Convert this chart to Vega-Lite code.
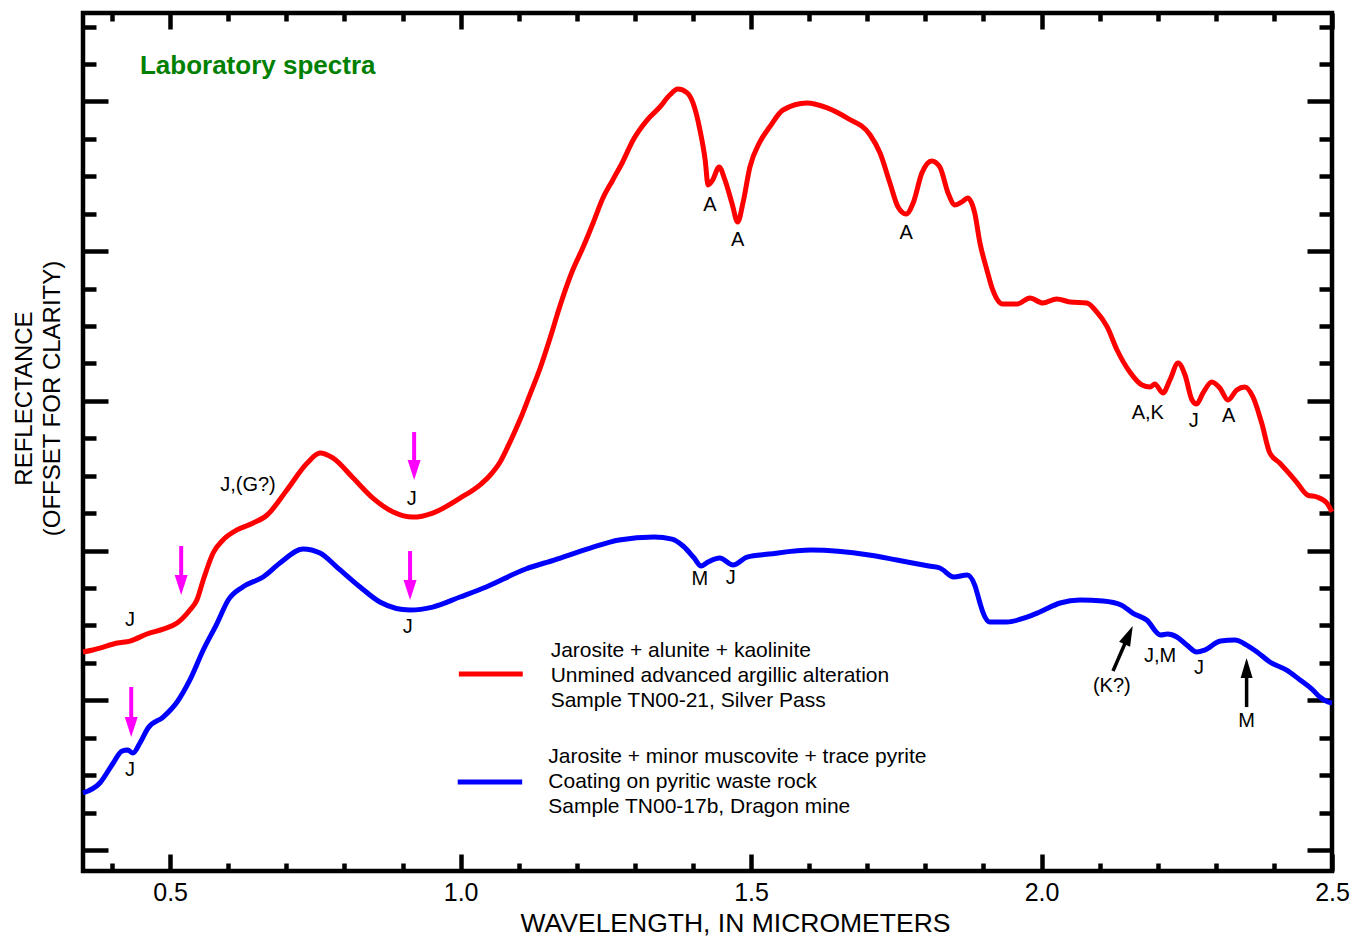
{
  "$schema": "https://vega.github.io/schema/vega-lite/v6.json",
  "width": 1249,
  "height": 858,
  "autosize": "none",
  "padding": {"left": 83, "top": 13, "right": 27, "bottom": 66},
  "background": "white",
  "config": {
    "font": "Liberation Sans",
    "view": {"stroke": "black", "strokeWidth": 4.5},
    "axis": {"domain": false, "grid": false, "tickColor": "black", "tickWidth": 4.5, "labelColor": "black", "titleColor": "black", "titleFontWeight": "normal", "labelFont": "Liberation Sans", "titleFont": "Liberation Sans"}
  },
  "datasets": {
    "red": [
      {"x":0.350,"y":1.323},{"x":0.367,"y":1.336},{"x":0.379,"y":1.349},{"x":0.409,"y":1.383},{"x":0.431,"y":1.396},{"x":0.460,"y":1.443},{"x":0.488,"y":1.476},{"x":0.512,"y":1.516},{"x":0.534,"y":1.603},{"x":0.546,"y":1.670},{"x":0.557,"y":1.804},{"x":0.574,"y":1.984},{"x":0.591,"y":2.071},{"x":0.615,"y":2.138},{"x":0.643,"y":2.184},{"x":0.667,"y":2.238},{"x":0.701,"y":2.405},{"x":0.736,"y":2.585},{"x":0.758,"y":2.652},{"x":0.780,"y":2.619},{"x":0.815,"y":2.485},{"x":0.849,"y":2.351},{"x":0.884,"y":2.258},{"x":0.918,"y":2.224},{"x":0.952,"y":2.251},{"x":0.999,"y":2.351},{"x":1.033,"y":2.438},{"x":1.050,"y":2.500},{"x":1.068,"y":2.592},{"x":1.085,"y":2.725},{"x":1.102,"y":2.872},{"x":1.119,"y":3.039},{"x":1.137,"y":3.220},{"x":1.154,"y":3.420},{"x":1.171,"y":3.634},{"x":1.193,"y":3.874},{"x":1.211,"y":4.028},{"x":1.228,"y":4.188},{"x":1.245,"y":4.355},{"x":1.262,"y":4.476},{"x":1.278,"y":4.589},{"x":1.297,"y":4.743},{"x":1.321,"y":4.876},{"x":1.343,"y":4.963},{"x":1.360,"y":5.043},{"x":1.374,"y":5.083},{"x":1.390,"y":5.057},{"x":1.400,"y":4.990},{"x":1.412,"y":4.810},{"x":1.421,"y":4.609},{"x":1.426,"y":4.442},{"x":1.434,"y":4.476},{"x":1.445,"y":4.562},{"x":1.455,"y":4.476},{"x":1.467,"y":4.322},{"x":1.477,"y":4.195},{"x":1.486,"y":4.322},{"x":1.498,"y":4.562},{"x":1.515,"y":4.729},{"x":1.532,"y":4.830},{"x":1.555,"y":4.943},{"x":1.596,"y":4.990},{"x":1.631,"y":4.957},{"x":1.665,"y":4.890},{"x":1.705,"y":4.776},{"x":1.722,"y":4.656},{"x":1.739,"y":4.456},{"x":1.753,"y":4.295},{"x":1.767,"y":4.248},{"x":1.779,"y":4.322},{"x":1.794,"y":4.522},{"x":1.811,"y":4.603},{"x":1.825,"y":4.562},{"x":1.839,"y":4.389},{"x":1.851,"y":4.309},{"x":1.863,"y":4.329},{"x":1.873,"y":4.355},{"x":1.885,"y":4.255},{"x":1.894,"y":4.055},{"x":1.906,"y":3.874},{"x":1.916,"y":3.741},{"x":1.933,"y":3.647},{"x":1.958,"y":3.647},{"x":1.980,"y":3.687},{"x":2.002,"y":3.654},{"x":2.026,"y":3.681},{"x":2.049,"y":3.661},{"x":2.078,"y":3.654},{"x":2.095,"y":3.594},{"x":2.113,"y":3.494},{"x":2.130,"y":3.340},{"x":2.152,"y":3.193},{"x":2.173,"y":3.106},{"x":2.187,"y":3.093},{"x":2.195,"y":3.113},{"x":2.209,"y":3.053},{"x":2.221,"y":3.140},{"x":2.235,"y":3.253},{"x":2.247,"y":3.173},{"x":2.259,"y":3.006},{"x":2.267,"y":2.979},{"x":2.278,"y":3.053},{"x":2.293,"y":3.126},{"x":2.307,"y":3.086},{"x":2.321,"y":3.006},{"x":2.336,"y":3.073},{"x":2.350,"y":3.093},{"x":2.364,"y":3.026},{"x":2.379,"y":2.852},{"x":2.393,"y":2.652},{"x":2.410,"y":2.585},{"x":2.439,"y":2.458},{"x":2.458,"y":2.371},{"x":2.474,"y":2.358},{"x":2.491,"y":2.318},{"x":2.500,"y":2.258}
    ],
    "blue": [
      {"x":0.350,"y":0.381},{"x":0.379,"y":0.448},{"x":0.402,"y":0.581},{"x":0.417,"y":0.661},{"x":0.427,"y":0.668},{"x":0.436,"y":0.648},{"x":0.448,"y":0.715},{"x":0.462,"y":0.815},{"x":0.488,"y":0.888},{"x":0.512,"y":0.989},{"x":0.534,"y":1.136},{"x":0.557,"y":1.336},{"x":0.581,"y":1.516},{"x":0.600,"y":1.670},{"x":0.625,"y":1.757},{"x":0.660,"y":1.824},{"x":0.689,"y":1.917},{"x":0.729,"y":2.011},{"x":0.758,"y":1.984},{"x":0.787,"y":1.890},{"x":0.827,"y":1.757},{"x":0.861,"y":1.657},{"x":0.913,"y":1.603},{"x":0.952,"y":1.623},{"x":0.999,"y":1.690},{"x":1.044,"y":1.757},{"x":1.112,"y":1.877},{"x":1.161,"y":1.937},{"x":1.223,"y":2.017},{"x":1.273,"y":2.071},{"x":1.333,"y":2.091},{"x":1.364,"y":2.077},{"x":1.383,"y":2.031},{"x":1.402,"y":1.951},{"x":1.414,"y":1.897},{"x":1.426,"y":1.924},{"x":1.446,"y":1.951},{"x":1.469,"y":1.904},{"x":1.493,"y":1.957},{"x":1.531,"y":1.977},{"x":1.603,"y":2.004},{"x":1.703,"y":1.971},{"x":1.751,"y":1.937},{"x":1.806,"y":1.897},{"x":1.825,"y":1.884},{"x":1.849,"y":1.824},{"x":1.872,"y":1.837},{"x":1.885,"y":1.770},{"x":1.894,"y":1.650},{"x":1.899,"y":1.589},{"x":1.911,"y":1.523},{"x":1.940,"y":1.523},{"x":1.975,"y":1.556},{"x":1.997,"y":1.590},{"x":2.032,"y":1.650},{"x":2.066,"y":1.670},{"x":2.106,"y":1.663},{"x":2.137,"y":1.637},{"x":2.157,"y":1.583},{"x":2.181,"y":1.536},{"x":2.205,"y":1.436},{"x":2.217,"y":1.443},{"x":2.233,"y":1.423},{"x":2.250,"y":1.369},{"x":2.267,"y":1.323},{"x":2.281,"y":1.336},{"x":2.308,"y":1.396},{"x":2.333,"y":1.403},{"x":2.353,"y":1.369},{"x":2.371,"y":1.323},{"x":2.393,"y":1.256},{"x":2.422,"y":1.202},{"x":2.445,"y":1.136},{"x":2.467,"y":1.069},{"x":2.479,"y":1.022},{"x":2.493,"y":0.989},{"x":2.500,"y":0.982}
    ],
    "notes": [
      {"x":0.431,"y":1.536,"t":"J"},{"x":0.634,"y":2.438,"t":"J,(G?)"},{"x":0.916,"y":2.345,"t":"J"},{"x":0.909,"y":1.490,"t":"J"},{"x":0.431,"y":0.534,"t":"J"},
      {"x":1.429,"y":4.309,"t":"A"},{"x":1.477,"y":4.075,"t":"A"},{"x":1.767,"y":4.122,"t":"A"},
      {"x":2.183,"y":2.919,"t":"A,K"},{"x":2.262,"y":2.866,"t":"J"},{"x":2.322,"y":2.899,"t":"A"},
      {"x":1.412,"y":1.81,"t":"M"},{"x":1.465,"y":1.82,"t":"J"},
      {"x":2.121,"y":1.096,"t":"(K?)"},{"x":2.204,"y":1.296,"t":"J,M"},{"x":2.271,"y":1.216,"t":"J"},{"x":2.353,"y":0.862,"t":"M"}
    ],
    "legendText": [
      {"x":1.155,"y":1.329,"t":"Jarosite + alunite + kaolinite"},
      {"x":1.155,"y":1.162,"t":"Unmined advanced argillic alteration"},
      {"x":1.155,"y":0.995,"t":"Sample TN00-21, Silver Pass"},
      {"x":1.151,"y":0.621,"t":"Jarosite + minor muscovite + trace pyrite"},
      {"x":1.151,"y":0.454,"t":"Coating on pyritic waste rock"},
      {"x":1.151,"y":0.287,"t":"Sample TN00-17b, Dragon mine"}
    ],
    "pinkArrows": [
      {"x":0.920,"y":2.792,"y2":2.539},
      {"x":0.519,"y":2.031,"y2":1.770},
      {"x":0.913,"y":1.997,"y2":1.737},
      {"x":0.433,"y":1.089,"y2":0.822}
    ]
  },
  "layer": [
    {
      "data": {"name": "red"},
      "mark": {"type": "line", "color": "#ff0000", "strokeWidth": 5, "interpolate": "monotone"},
      "encoding": {
        "x": {"field": "x", "type": "quantitative",
          "scale": {"domain": [0.35, 2.5], "nice": false, "zero": false},
          "axis": {"orient": "bottom",
            "values": [0.4,0.5,0.6,0.7,0.8,0.9,1.0,1.1,1.2,1.3,1.4,1.5,1.6,1.7,1.8,1.9,2.0,2.1,2.2,2.3,2.4,2.5],
            "tickSize": {"condition": {"test": "abs(datum.value*2 - round(datum.value*2)) < 0.001", "value": -17}, "value": -8},
            "labelExpr": "abs(datum.value*2 - round(datum.value*2)) < 0.001 ? format(datum.value, '.1f') : ''",
            "labelFontSize": 25, "labelPadding": 26, "labelFlush": false, "labelOverlap": false, "labelBound": false,
            "title": "WAVELENGTH, IN MICROMETERS", "titleFontSize": 26.5, "titleX": 652, "titleY": 60, "titleBaseline": "alphabetic", "titleAlign": "center", "titleAnchor": null}},
        "y": {"field": "y", "type": "quantitative",
          "scale": {"domain": [-0.14, 5.591], "nice": false, "zero": false},
          "axis": {"orient": "left",
            "values": [0,0.25,0.5,0.75,1,1.25,1.5,1.75,2,2.25,2.5,2.75,3,3.25,3.5,3.75,4,4.25,4.5,4.75,5,5.25,5.5],
            "tickSize": {"condition": {"test": "abs(datum.value - round(datum.value)) < 0.001", "value": -25}, "value": -13},
            "labels": false,
            "title": ["REFLECTANCE", "(OFFSET FOR CLARITY)"], "titleFontSize": 24, "titleAngle": 270, "titleX": -47, "titleY": 385, "titleAlign": "center", "titleBaseline": "bottom", "titleLineHeight": 28}}
      }
    },
    {
      "data": {"name": "blue"},
      "mark": {"type": "line", "color": "#0000ff", "strokeWidth": 5, "interpolate": "monotone"},
      "encoding": {
        "x": {"field": "x", "type": "quantitative",
          "axis": {"orient": "top",
            "values": [0.4,0.5,0.6,0.7,0.8,0.9,1.0,1.1,1.2,1.3,1.4,1.5,1.6,1.7,1.8,1.9,2.0,2.1,2.2,2.3,2.4,2.5],
            "tickSize": {"condition": {"test": "abs(datum.value*2 - round(datum.value*2)) < 0.001", "value": -16}, "value": -8},
            "labels": false, "title": null}},
        "y": {"field": "y", "type": "quantitative",
          "axis": {"orient": "right",
            "values": [0,0.25,0.5,0.75,1,1.25,1.5,1.75,2,2.25,2.5,2.75,3,3.25,3.5,3.75,4,4.25,4.5,4.75,5,5.25,5.5],
            "tickSize": {"condition": {"test": "abs(datum.value - round(datum.value)) < 0.001", "value": -25}, "value": -13},
            "labels": false, "title": null}}
      }
    },
    {
      "data": {"name": "notes"},
      "mark": {"type": "text", "fontSize": 20, "color": "black", "align": "center", "baseline": "middle"},
      "encoding": {
        "x": {"field": "x", "type": "quantitative", "axis": null},
        "y": {"field": "y", "type": "quantitative", "axis": null},
        "text": {"field": "t"}
      }
    },
    {
      "data": {"name": "legendText"},
      "mark": {"type": "text", "fontSize": 21, "color": "black", "align": "left", "baseline": "middle"},
      "encoding": {
        "x": {"field": "x", "type": "quantitative", "axis": null},
        "y": {"field": "y", "type": "quantitative", "axis": null},
        "text": {"field": "t"}
      }
    },
    {
      "data": {"values": [{"x": 0.448, "y": 5.239, "t": "Laboratory spectra"}]},
      "mark": {"type": "text", "fontSize": 26, "fontWeight": "bold", "color": "#008000", "align": "left", "baseline": "middle"},
      "encoding": {
        "x": {"field": "x", "type": "quantitative", "axis": null},
        "y": {"field": "y", "type": "quantitative", "axis": null},
        "text": {"field": "t"}
      }
    },
    {
      "data": {"values": [{"x": 0.997, "x2": 1.107, "y": 1.176}]},
      "mark": {"type": "rule", "color": "#ff0000", "strokeWidth": 5},
      "encoding": {
        "x": {"field": "x", "type": "quantitative", "axis": null},
        "x2": {"field": "x2"},
        "y": {"field": "y", "type": "quantitative", "axis": null}
      }
    },
    {
      "data": {"values": [{"x": 0.995, "x2": 1.106, "y": 0.454}]},
      "mark": {"type": "rule", "color": "#0000ff", "strokeWidth": 5},
      "encoding": {
        "x": {"field": "x", "type": "quantitative", "axis": null},
        "x2": {"field": "x2"},
        "y": {"field": "y", "type": "quantitative", "axis": null}
      }
    },
    {
      "data": {"name": "pinkArrows"},
      "mark": {"type": "rule", "color": "#ff00ff", "strokeWidth": 4},
      "encoding": {
        "x": {"field": "x", "type": "quantitative", "axis": null},
        "y": {"field": "y", "type": "quantitative", "axis": null},
        "y2": {"field": "y2"}
      }
    },
    {
      "data": {"name": "pinkArrows"},
      "mark": {"type": "point", "shape": "M-0.65,-1L0.65,-1L0,1Z", "size": 400, "filled": true, "color": "#ff00ff", "opacity": 1},
      "encoding": {
        "x": {"field": "x", "type": "quantitative", "axis": null},
        "y": {"field": "y2", "type": "quantitative", "axis": null}
      }
    },
    {
      "data": {"values": [{"x": 2.123, "y": 1.196, "x2": 2.150, "y2": 1.436}, {"x": 2.353, "y": 0.955, "x2": 2.353, "y2": 1.216}]},
      "mark": {"type": "rule", "color": "black", "strokeWidth": 3.5},
      "encoding": {
        "x": {"field": "x", "type": "quantitative", "axis": null},
        "y": {"field": "y", "type": "quantitative", "axis": null},
        "x2": {"field": "x2"},
        "y2": {"field": "y2"}
      }
    },
    {
      "data": {"values": [{"x": 2.150, "y": 1.436}]},
      "mark": {"type": "point", "shape": "M-0.6,1L0.6,1L0,-1Z", "size": 400, "filled": true, "color": "black", "opacity": 1, "angle": 24},
      "encoding": {
        "x": {"field": "x", "type": "quantitative", "axis": null},
        "y": {"field": "y", "type": "quantitative", "axis": null}
      }
    },
    {
      "data": {"values": [{"x": 2.353, "y": 1.216}]},
      "mark": {"type": "point", "shape": "M-0.6,1L0.6,1L0,-1Z", "size": 400, "filled": true, "color": "black", "opacity": 1},
      "encoding": {
        "x": {"field": "x", "type": "quantitative", "axis": null},
        "y": {"field": "y", "type": "quantitative", "axis": null}
      }
    }
  ],
  "resolve": {"axis": {"x": "independent", "y": "independent"}}
}
